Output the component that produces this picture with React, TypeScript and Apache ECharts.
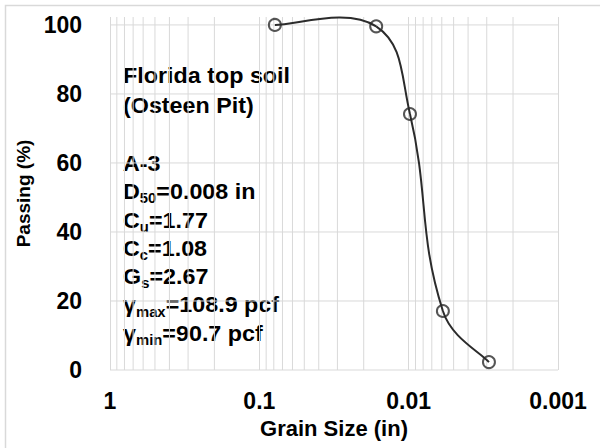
import React, { useEffect, useRef } from "react";
import * as echarts from "echarts";

const grainSize = [0.0787, 0.0165, 0.0098, 0.0059, 0.0029];
const passing = [100, 99.6, 74.2, 17.1, 2.3];
const xTickLabels = ["1", "0.1", "0.01", "0.001"];
const yGridValues = [0, 20, 40, 60, 80, 100];
const minorGridValues = [
  0.9, 0.8, 0.7, 0.6, 0.5, 0.4, 0.3, 0.2,
  0.09, 0.08, 0.07, 0.06, 0.05, 0.04, 0.03, 0.02,
  0.009, 0.008, 0.007, 0.006, 0.005, 0.004, 0.003, 0.002,
];
const titleLines = ["Florida top soil", "(Osteen Pit)"];
const propLines = [
  "A-3",
  "D{s|50}=0.008 in",
  "C{s|u}=1.77",
  "C{s|c}=1.08",
  "G{s|s}=2.67",
  "γ{s|max}=108.9 pcf",
  "γ{s|min}=90.7 pcf",
];

const FONT = "'Liberation Sans', Arial, sans-serif";
const GRID = "#d9d9d9";
const LINE = "#2b2b2b";
const TENSION = 0.21;

export default function App() {
  const ref = useRef<HTMLDivElement>(null);
  useEffect(() => {
    if (!ref.current) return;
    const chart = echarts.init(ref.current, undefined, { renderer: "svg" });
    const n = grainSize.length;
    chart.setOption({
      animation: false,
      backgroundColor: "#fff",
      grid: { left: 110, right: 42, top: 17, bottom: 78, containLabel: false },
      xAxis: {
        type: "log",
        logBase: 10,
        min: 0.001,
        max: 1,
        inverse: true,
        name: "Grain Size (in)",
        nameLocation: "middle",
        nameGap: 47,
        nameTextStyle: { fontFamily: FONT, fontSize: 22, fontWeight: "bold", color: "#000" },
        axisLine: { show: false },
        axisTick: { show: false },
        axisLabel: {
          margin: 19,
          fontFamily: FONT,
          fontSize: 23,
          fontWeight: "bold",
          color: "#000",
          formatter: (v: number) => xTickLabels[Math.round(-Math.log10(v))] ?? "",
        },
        splitLine: { show: true, lineStyle: { color: GRID, width: 1 } },
      },
      yAxis: {
        type: "value",
        min: 0,
        max: 102.3,
        interval: 20,
        name: "Passing (%)",
        nameLocation: "middle",
        nameGap: 73,
        nameRotate: 90,
        nameTextStyle: { fontFamily: FONT, fontSize: 19, fontWeight: "bold", color: "#000" },
        axisLine: { show: false },
        axisTick: { show: false },
        axisLabel: {
          margin: 28,
          showMaxLabel: false,
          fontFamily: FONT,
          fontSize: 23,
          fontWeight: "bold",
          color: "#000",
        },
        splitLine: { show: false },
      },
      graphic: [
        {
          type: "rect",
          shape: { x: 5.5, y: 5.5, width: 640, height: 480 },
          style: { fill: "none", stroke: GRID, lineWidth: 1.5 },
          silent: true,
        },
        {
          type: "text",
          x: 123,
          y: 60,
          scaleX: 1.06,
          style: {
            text: titleLines.join("\n"),
            fontFamily: FONT,
            fontSize: 22,
            fontWeight: "bold",
            lineHeight: 30,
            fill: "#000",
          },
        },
        {
          type: "text",
          x: 123,
          y: 149,
          scaleX: 1.06,
          style: {
            text: propLines.join("\n"),
            fontFamily: FONT,
            fontSize: 22,
            fontWeight: "bold",
            lineHeight: 28.3,
            fill: "#000",
            rich: {
              s: {
                fontFamily: FONT,
                fontSize: 14,
                fontWeight: "bold",
                lineHeight: 28.3,
                verticalAlign: "bottom",
                fill: "#000",
              },
            },
          },
        },
      ],
      series: [
        {
          type: "custom",
          silent: true,
          z: 1,
          data: minorGridValues.map((v) => [v, 0]),
          encode: { x: 0, y: 1 },
          renderItem: (params: any, api: any) => {
            const cs = params.coordSys;
            const x = api.coord([api.value(0), 0])[0];
            return {
              type: "line",
              shape: { x1: x, y1: cs.y, x2: x, y2: cs.y + cs.height },
              style: { stroke: GRID, lineWidth: 1 },
            };
          },
        },
        {
          type: "custom",
          silent: true,
          z: 1,
          data: yGridValues.map((v) => [1, v]),
          encode: { x: 0, y: 1 },
          renderItem: (params: any, api: any) => {
            const cs = params.coordSys;
            const y = api.coord([1, api.value(1)])[1];
            return {
              type: "line",
              shape: { x1: cs.x, y1: y, x2: cs.x + cs.width, y2: y },
              style: { stroke: GRID, lineWidth: 1 },
            };
          },
        },
        {
          // smoothed curve (Excel-style Bezier through the points)
          type: "custom",
          silent: true,
          z: 4,
          data: grainSize.map((g, i) => [g, passing[i]]),
          encode: { x: 0, y: 1 },
          renderItem: (params: any, api: any) => {
            const i = params.dataIndex;
            if (i >= n - 1) return null;
            const pt = (k: number) => {
              const kk = Math.max(0, Math.min(n - 1, k));
              return api.coord([grainSize[kk], passing[kk]]);
            };
            const dist = (a: number[], b: number[]) => Math.hypot(a[0] - b[0], a[1] - b[1]);
            const p0 = pt(i - 1);
            const p1 = pt(i);
            const p2 = pt(i + 1);
            const p3 = pt(i + 2);
            const d01 = dist(p0, p1);
            const d12 = dist(p1, p2);
            const d23 = dist(p2, p3);
            const wOut = i > 0 ? (2 * d12) / (d01 + d12) : 1;
            const wIn = i + 2 < n ? (2 * d12) / (d12 + d23) : 1;
            return {
              type: "bezierCurve",
              shape: {
                x1: p1[0],
                y1: p1[1],
                cpx1: p1[0] + (p2[0] - p0[0]) * TENSION * wOut,
                cpy1: p1[1] + (p2[1] - p0[1]) * TENSION * wOut,
                cpx2: p2[0] - (p3[0] - p1[0]) * TENSION * wIn,
                cpy2: p2[1] - (p3[1] - p1[1]) * TENSION * wIn,
                x2: p2[0],
                y2: p2[1],
              },
              style: { stroke: LINE, lineWidth: 2, fill: "none" },
            };
          },
        },
        {
          type: "scatter",
          z: 5,
          data: grainSize.map((g, i) => [g, passing[i]]),
          symbol: "circle",
          symbolSize: 12,
          itemStyle: { color: "transparent", borderColor: LINE, borderWidth: 2 },
        },
      ],
    });
    return () => chart.dispose();
  }, []);
  return (
    <div
      ref={ref}
      style={{ position: "absolute", left: 0, top: 0, width: 600, height: 448 }}
    />
  );
}
